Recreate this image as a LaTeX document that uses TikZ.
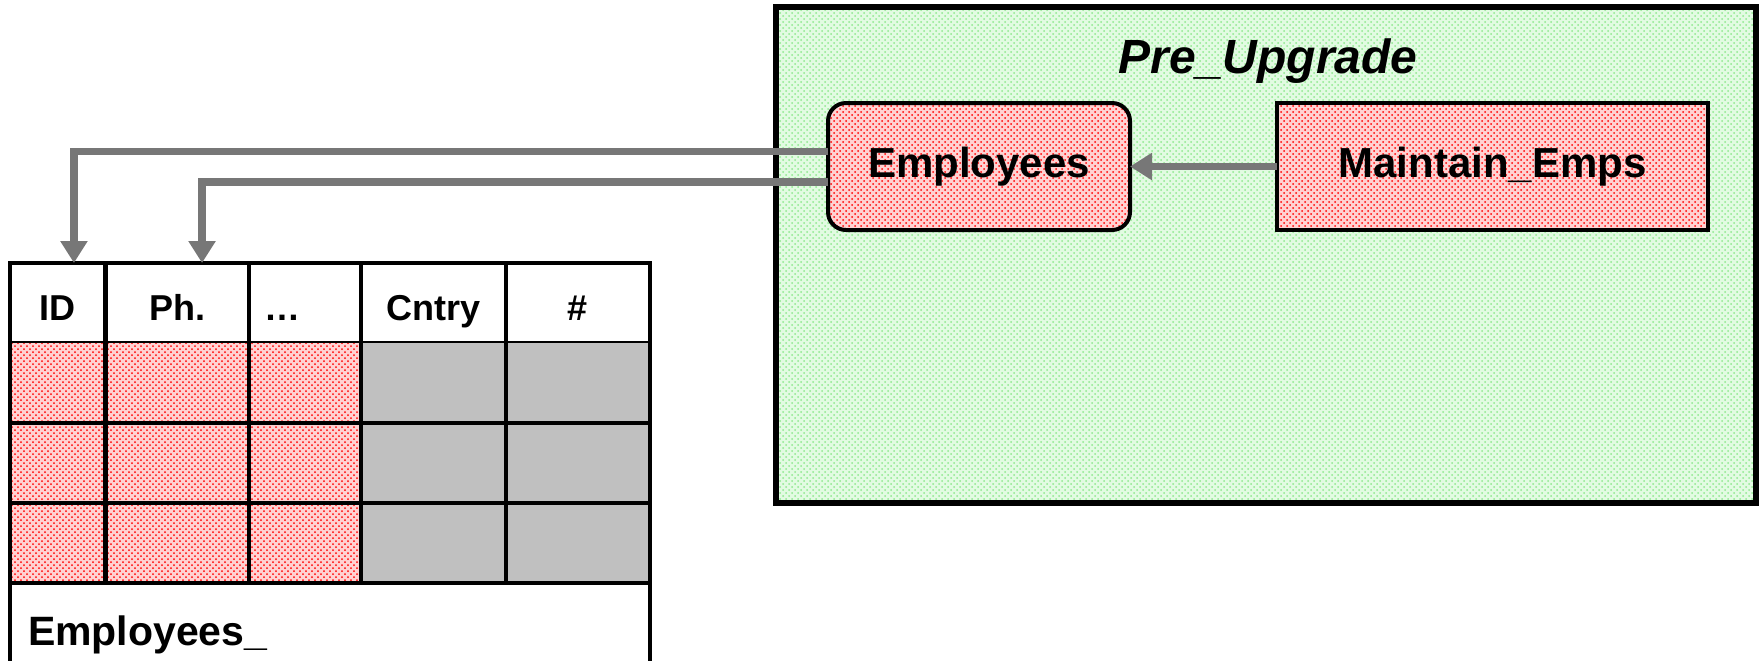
\documentclass[tikz,border=0pt]{standalone}
\usepackage{fontspec}
\setmainfont{Liberation Sans}
\usetikzlibrary{positioning, patterns, arrows.meta}
\definecolor{dotred}{HTML}{FF0000}
\definecolor{pinkbg}{HTML}{FFD2D2}
\definecolor{dotgreen}{HTML}{8EE88E}
\definecolor{greenbg}{HTML}{E2FBE2}
\definecolor{arrowgray}{HTML}{777777}
\definecolor{cellgray}{HTML}{C0C0C0}
\tikzstyle{line} = [draw=arrowgray, line width=3.8pt, -{Triangle[width=13pt,length=11pt]}]
\tikzstyle{redbox} = [draw, line width=2pt, outer sep=0pt, preaction={fill=pinkbg}, pattern=crosshatch dots, pattern color=dotred, font=\fontsize{21}{25}\selectfont\bfseries]
\tikzstyle{head} = [draw, line width=2.2pt, outer sep=0pt, inner sep=0pt, minimum height=40pt, text height=17.5pt, text depth=0pt, font=\fontsize{18}{22}\selectfont\bfseries]

\begin{document}
\begin{tikzpicture}[x=0.5pt, y=-0.5pt]
	\useasboundingbox (0,0) rectangle (1760,661);
	% upgrade area
	\node[draw, line width=2.6pt, outer sep=0pt, preaction={fill=greenbg}, pattern=crosshatch dots, pattern color=dotgreen, minimum width=490pt, minimum height=248pt] (Up) at (1266,255) {};
	\node[anchor=base, font=\fontsize{24}{28}\selectfont\bfseries\itshape] (Title) at (1268,73) {Pre\_Upgrade};
	\node[redbox, rounded corners=9pt, minimum width=151pt, minimum height=63.5pt] (Emp) at (979,166.5) {Employees};
	\node[redbox, minimum width=215.5pt, minimum height=63.5pt, right=73.5pt of Emp] (Maint) {Maintain\_Emps};
	% table
	\node[head, minimum width=47.75pt, anchor=north west] (ID) at (10,263) {ID};
	\node[head, minimum width=71.75pt, right=0pt of ID] (Ph) {Ph.};
	\node[head, minimum width=56pt, right=0pt of Ph] (Dots) {\ldots\rule{23pt}{0pt}};
	\node[head, minimum width=72.5pt, right=0pt of Dots] (Cntry) {Cntry};
	\node[head, minimum width=72pt, right=0pt of Cntry] (Num) {\#};
	\fill[preaction={fill=pinkbg}, pattern=crosshatch dots, pattern color=dotred] (ID.south west) rectangle ([yshift=-120pt]Dots.south east);
	\fill[cellgray] (Cntry.south west) rectangle ([yshift=-120pt]Num.south east);
	\foreach \y in {423,503,583}
		\draw[line width=2.2pt] (10,\y) -- (650,\y);
	\foreach \c in {ID,Ph,Dots,Cntry}
		\draw[line width=2.2pt] (\c.south east) -- ([yshift=-120pt]\c.south east);
	\draw[line width=2.2pt] (ID.south west) -- (10,661);
	\draw[line width=2.2pt] (Num.south east) -- (650,661);
	\node[anchor=base west, font=\fontsize{20.5}{24}\selectfont\bfseries] (Tab) at (21,645) {Employees\_};
	% connectors
	\draw[line] (Maint.west) -- (Emp.east);
	\draw[line] ([yshift=7.5pt]Emp.west) -| ([xshift=8.1pt]ID.north);
	\draw[line] ([yshift=-7.75pt]Emp.west) -| ([xshift=12.4pt]Ph.north);
\end{tikzpicture}
\end{document}
